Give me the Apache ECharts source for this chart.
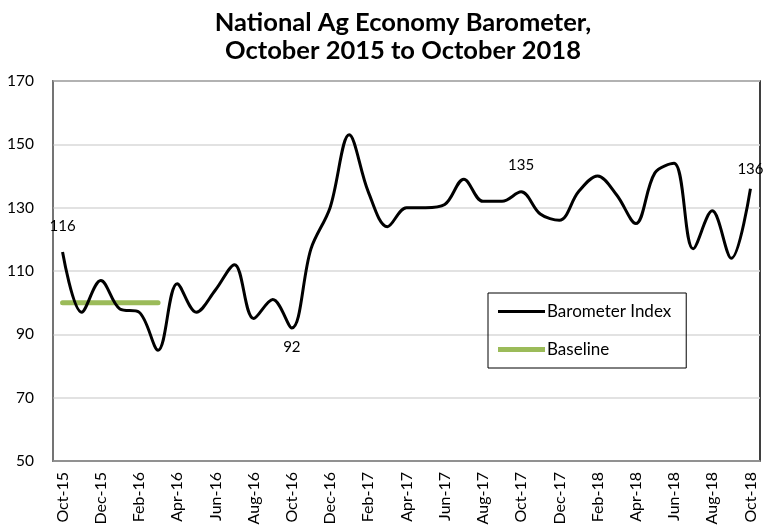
<!DOCTYPE html>
<html>
<head>
<meta charset="utf-8">
<script src="https://cdn.jsdelivr.net/npm/echarts@6/dist/echarts.min.js"></script>
<style>
  html, body { margin: 0; padding: 0; background: #fff; }
  #chart { width: 764px; height: 529px; }
</style>
</head>
<body>
<div id="chart"></div>
<script>
// months, Oct-15 .. Oct-18
const months = [
  'Oct-15', 'Nov-15', 'Dec-15', 'Jan-16', 'Feb-16', 'Mar-16', 'Apr-16', 'May-16', 'Jun-16',
  'Jul-16', 'Aug-16', 'Sep-16', 'Oct-16', 'Nov-16', 'Dec-16', 'Jan-17', 'Feb-17', 'Mar-17',
  'Apr-17', 'May-17', 'Jun-17', 'Jul-17', 'Aug-17', 'Sep-17', 'Oct-17', 'Nov-17', 'Dec-17',
  'Jan-18', 'Feb-18', 'Mar-18', 'Apr-18', 'May-18', 'Jun-18', 'Jul-18', 'Aug-18', 'Sep-18',
  'Oct-18'
]

// barometer index values
const indexValues = [
  116, 97, 107, 98, 97, 85, 106, 97, 104,
  112, 95, 101, 92, 117, 130, 153, 135, 124,
  130, 130, 131, 139, 132, 132, 135, 128, 126,
  135, 140, 134, 125, 141, 144, 117, 129, 114,
  136
]

// baseline = 100, Oct-15 .. Mar-16
const baselineValues = [100, 100, 100, 100, 100, 100]

// points that carry a value label
const labelledMonths = ['Oct-15', 'Oct-16', 'Oct-17', 'Oct-18']

const labelFont = { fontFamily: 'Lato', fontSize: 15, color: '#000' }

const labelPlace = {
  'Oct-15': { position: 'top', distance: 18 },
  'Oct-16': { position: 'bottom', distance: 12 },
  'Oct-17': { position: 'top', distance: 19 },
  'Oct-18': { position: 'top', distance: 12 }
}

const indexData = indexValues.map((v, i) => {
  const m = months[i]
  if (!labelledMonths.includes(m)) return v
  return {
    value: v,
    label: Object.assign({ show: true, formatter: '{c}' }, labelFont, labelPlace[m])
  }
})

const chart = echarts.init(document.getElementById('chart'))

chart.setOption({
  animation: false,
  title: {
    text: 'National Ag Economy Barometer,\nOctober 2015 to October 2018',
    left: 398,
    top: 4,
    textAlign: 'center',
    textStyle: {
      fontFamily: 'Lato',
      fontSize: 25.5,
      fontWeight: 'bold',
      lineHeight: 28,
      color: '#000'
    }
  },
  legend: {
    orient: 'vertical',
    left: 488,
    top: 293,
    padding: [10, 15, 10, 10],
    itemWidth: 47,
    itemHeight: 14,
    itemGap: 21,
    borderColor: '#000',
    borderWidth: 1,
    textStyle: { fontFamily: 'Lato', fontSize: 17, color: '#000', padding: [0, 0, 0, -3] },
    data: [
      { name: 'Barometer Index', icon: 'path://M0,0H47V3H0Z' },
      { name: 'Baseline', icon: 'path://M0,0H47V5H0Z' }
    ]
  },
  grid: {
    left: 53,
    right: 4,
    top: 81,
    bottom: 68,
    show: true,
    borderColor: '#000',
    borderWidth: 1.5
  },
  xAxis: {
    type: 'category',
    data: months,
    boundaryGap: true,
    axisLine: { lineStyle: { color: '#868686', width: 1.5 } },
    axisTick: { interval: 1, length: 6, lineStyle: { color: '#868686', width: 1.5 } },
    axisLabel: {
      interval: 1,
      rotate: 90,
      margin: 11,
      fontFamily: 'Lato',
      fontSize: 16,
      color: '#000'
    },
    splitLine: { show: false }
  },
  yAxis: {
    type: 'value',
    min: 50,
    max: 170,
    interval: 10,
    axisLine: { show: true, lineStyle: { color: '#868686', width: 1.5 } },
    axisTick: { show: false },
    axisLabel: {
      margin: 19,
      fontFamily: 'Lato',
      fontSize: 15.5,
      color: '#000',
      formatter: v => (v % 20 === 10 ? String(v) : '')
    },
    splitLine: {
      show: true,
      lineStyle: { color: ['#d9d9d9', 'rgba(0,0,0,0)'], width: 1.5 }
    }
  },
  series: [
    {
      name: 'Barometer Index',
      type: 'line',
      data: indexData,
      smooth: 0.35,
      symbol: 'circle',
      symbolSize: 0,
      showSymbol: true,
      itemStyle: { color: '#000' },
      lineStyle: { color: '#000', width: 3 },
      z: 3
    },
    {
      name: 'Baseline',
      type: 'line',
      data: baselineValues,
      symbol: 'none',
      itemStyle: { color: '#9bbb59' },
      lineStyle: { color: '#9bbb59', width: 5, cap: 'round' },
      z: 2
    }
  ]
})
</script>
</body>
</html>
